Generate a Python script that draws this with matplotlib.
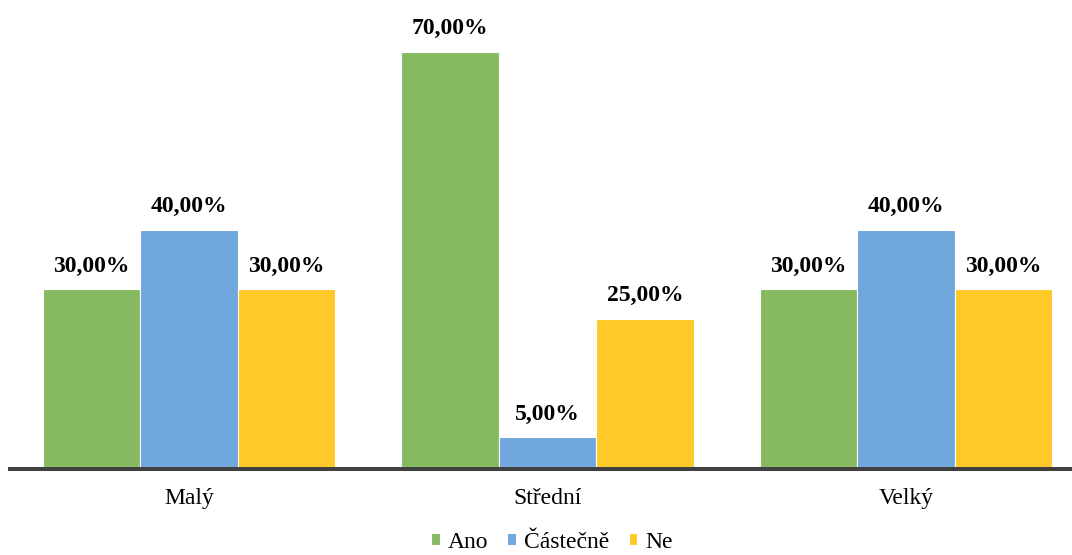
import matplotlib
matplotlib.use("Agg")
import matplotlib.pyplot as plt
import numpy as np

categories = ["Malý", "Střední", "Velký"]
series_names = ["Ano", "Částečně", "Ne"]
ano = [30.0, 70.0, 30.0]
castecne = [40.0, 5.0, 40.0]
ne = [30.0, 25.0, 30.0]
colors = ["#86BA60", "#70A7DC", "#FFC927"]

plt.rcParams["font.family"] = ["Liberation Serif", "DejaVu Serif"]

W, H = 1072, 555
fig = plt.figure(figsize=(W / 100, H / 100), dpi=100)

# plot area geometry (pixels)
step_px = 358.5
left_px = 189 - step_px / 2
axis_px = 469          # centre of the baseline rule
zero_px = 467          # where bars start
px_per_pct = (467 - 51.7) / 70.0

ax = fig.add_axes([left_px / W, (H - axis_px) / H, 3 * step_px / W, axis_px / H])

x = np.arange(len(categories))
width = 0.2724
offsets = [-width, 0.0, width]
for vals, name, col, off in zip([ano, castecne, ne], series_names, colors, offsets):
    bars = ax.bar(x + off, vals, width, color=col, edgecolor="white", linewidth=0.8,
                  label=name, zorder=1)
    for b, v in zip(bars, vals):
        ax.annotate(f"{v:.2f}%".replace(".", ","),
                    (b.get_x() + b.get_width() / 2, v),
                    xytext=(0, 12.5), textcoords="offset points",
                    ha="center", va="baseline", fontsize=17, fontweight="bold")

ax.set_xlim(-0.5, 2.5)
ax.set_ylim(-(axis_px - zero_px) / px_per_pct, zero_px / px_per_pct)
ax.set_xticks(x)
ax.set_xticklabels(categories, fontsize=17)
ax.tick_params(axis="x", length=0, pad=14)
ax.set_yticks([])
for s in ["top", "left", "right"]:
    ax.spines[s].set_visible(False)
ax.spines["bottom"].set_linewidth(2.9)
ax.spines["bottom"].set_color("#404040")
ax.spines["bottom"].set_zorder(3)

fig.legend(loc="center", bbox_to_anchor=(552 / W, 1 - 542 / H), ncol=3, frameon=False,
           fontsize=17, handlelength=0.38, handleheight=0.38, handletextpad=0.34,
           columnspacing=0.8, borderaxespad=0, borderpad=0)

fig.savefig("out.png", dpi=100)
